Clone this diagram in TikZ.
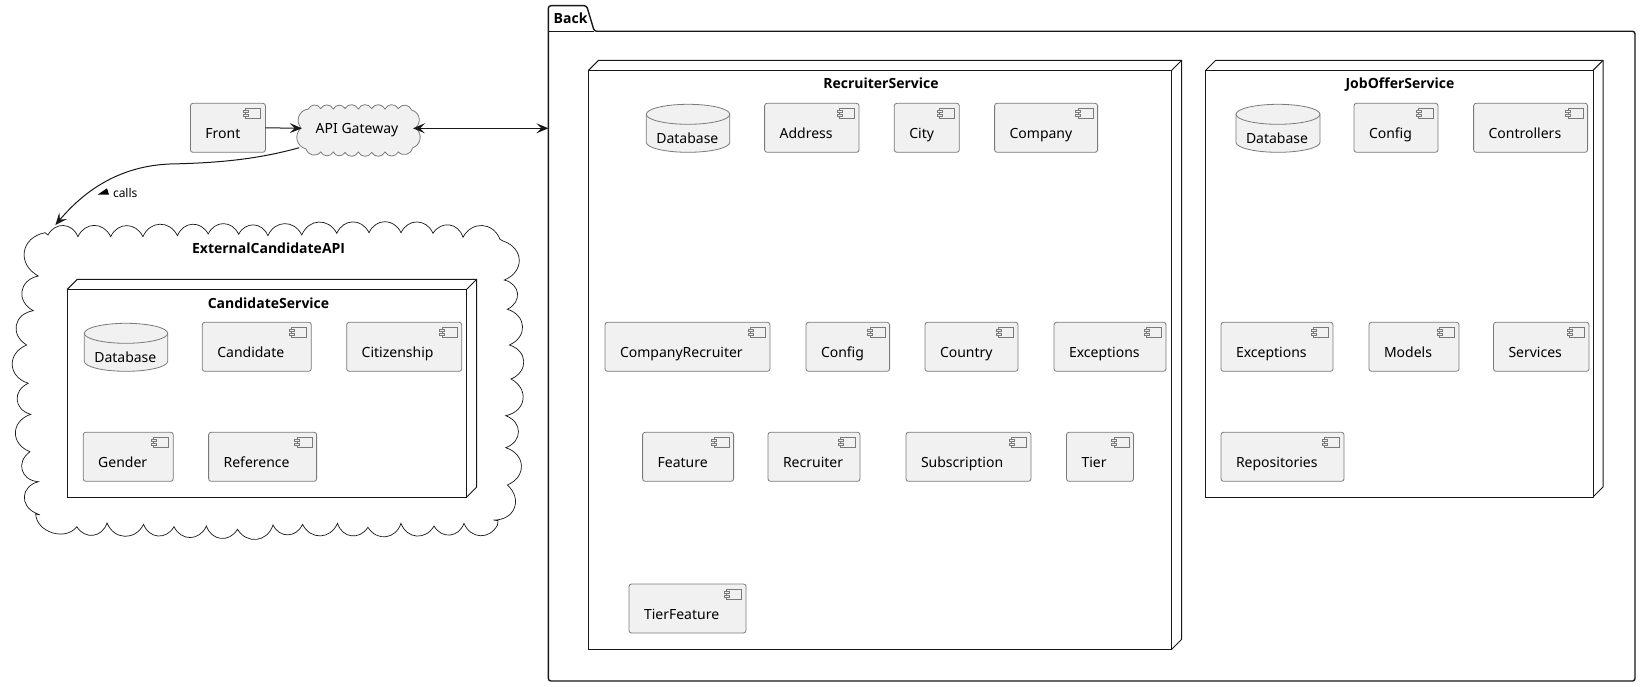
\documentclass[tikz,border=0pt]{standalone}
\usepackage{fontspec}
\setmainfont{Noto Sans}
\newfontfamily\ttlf{Open Sans}
\usetikzlibrary{arrows.meta,calc}
\definecolor{umlink}{HTML}{181818}
\definecolor{umlfill}{HTML}{F1F1F1}
\definecolor{umledge}{HTML}{7A7A7A}
\tikzset{
  x=1pt,y=-1pt,
  lbl/.style={inner sep=0pt,outer sep=0pt,text=black,font=\fontsize{14}{16}\selectfont},
  ttl/.style={inner sep=0pt,outer sep=0pt,text=black,font=\ttlf\fontsize{14}{16}\selectfont\bfseries},
  compshape/.style={draw=umledge,fill=umlfill,line width=0.8pt,rounded corners=2.5pt,inner sep=0pt,outer sep=0pt,minimum height=49pt},
  iconline/.style={draw=umledge,fill=umlfill,line width=0.7pt},
  dbline/.style={draw=umledge,fill=umlfill,line width=0.8pt},
  svcshape/.style={draw=umlink,fill=white,line width=1pt,inner sep=0pt,outer sep=0pt},
  svcline/.style={draw=umlink,fill=white,line width=1pt,line join=round},
  pkgline/.style={draw=umlink,fill=white,line width=1.4pt,line join=round},
  wavy/.style={bend left=70,looseness=1.45},
  wavyh/.style={bend left=65,looseness=1.3},
  wavyg/.style={bend left=60,looseness=1.2},
  cloudline/.style={draw=umlink,fill=white,line width=0.7pt,line join=miter},
  gwline/.style={draw=umledge,fill=umlfill,line width=0.8pt,line join=miter},
  link/.style={draw=umlink,line width=1pt},
  tip/.tip={Stealth[length=12pt,width=10pt,inset=5pt]},
}
% id, x, y, width, text
\newcommand{\compbox}[5]{%
  \node[compshape,minimum width=#4pt,anchor=north west] (#1) at (#2,#3) {};
  \node[lbl,anchor=base west] (#1t) at ([shift={(15,35.6)}]#1.north west) {#5};
  \draw[iconline] ([shift={(-19.6,5)}]#1.north east) rectangle ([shift={(-4.6,15.4)}]#1.north east);
  \draw[iconline] ([shift={(-22,7)}]#1.north east) rectangle ([shift={(-17,9)}]#1.north east);
  \draw[iconline] ([shift={(-22,11)}]#1.north east) rectangle ([shift={(-17,13)}]#1.north east);
}
% id, x, y, width, text
\newcommand{\dbcyl}[5]{%
  \begin{scope}[shift={(#2,#3)},xscale=#4]
    \draw[dbline] (0,10) .. controls (0,4.5) and (.225,0) .. (.5,0) .. controls (.775,0) and (1,4.5) .. (1,10)
      -- (1,38) .. controls (1,43.5) and (.775,48) .. (.5,48) .. controls (.225,48) and (0,43.5) .. (0,38) -- cycle;
    \draw[dbline,fill=none] (0,10) .. controls (0,15.5) and (.225,20) .. (.5,20) .. controls (.775,20) and (1,15.5) .. (1,10);
  \end{scope}
  \node[lbl,anchor=base west] (#1) at ($(#2,#3)+(10,39)$) {#5};
}
% id, x0, y0, x1, y1, title, title centre x, title baseline y
\newcommand{\svcbox}[8]{%
  \draw[svcline] (#2,#3) -- ($(#2,#3)+(10,-10)$) -- ($(#4,#3)+(10,-10)$) -- ($(#4,#5)+(10,-10)$) -- (#4,#5) -- cycle;
  \draw[svcline] (#4,#3) -- ($(#4,#3)+(10,-10)$);
  \path let \p1=(#2,#3), \p2=(#4,#5) in
    node[svcshape,anchor=north west,minimum width=\x2-\x1,minimum height=\y1-\y2] (#1) at (#2,#3) {};
  \node[ttl,anchor=base] (#1t) at (#7,#8) {#6};
}
\begin{document}
\begin{tikzpicture}
\useasboundingbox (0,0) rectangle (1641,687);
\fill[white] (0,0) rectangle (1641,687);

% Back package
\draw[pkgline,rounded corners=2.5pt] (548.4,31.3) -- (548.4,5.7) -- (586.6,5.7) -- (594.3,31.3) -- (1635,31.3) -- (1635,681) -- (548.4,681) -- cycle;
\draw[pkgline,fill=none] (548.4,31.3) -- (594.3,31.3);
\node[ttl,anchor=base west] (backt) at (553.7,23.3) {Back};
\coordinate (backport) at (548.4,128.3);

\svcbox{rec}{588.6}{70.3}{1171.7}{649.3}{RecruiterService}{881}{89}
\svcbox{job}{1205.7}{70.3}{1593}{497}{JobOfferService}{1400}{89}

\dbcyl{recdb}{646.3}{104.3}{83.5}{Database}
\compbox{recaddress}{764.6}{103.3}{94.4}{Address}
\compbox{reccity}{894.3}{103.3}{65}{City}
\compbox{reccompany}{994.6}{103.3}{103}{Company}
\compbox{reccr}{605}{322.3}{165}{CompanyRecruiter}
\compbox{recconfig}{806}{322.3}{83.6}{Config}
\compbox{reccountry}{925}{322.3}{93}{Country}
\compbox{recexc}{1054}{322.3}{112}{Exceptions}
\compbox{recfeature}{642.6}{432.3}{91}{Feature}
\compbox{recrecruiter}{768}{432.3}{92}{Recruiter}
\compbox{recsub}{906}{432.3}{125}{Subscription}
\compbox{rectier}{1066.5}{432.3}{67}{Tier}
\compbox{rectf}{629}{584}{117}{TierFeature}

\dbcyl{jobdb}{1236}{104.3}{84}{Database}
\compbox{jobconfig}{1354}{103.3}{84}{Config}
\compbox{jobctrl}{1473.6}{103.3}{114}{Controllers}
\compbox{jobexc}{1221}{322.3}{112}{Exceptions}
\compbox{jobmodels}{1369}{322.3}{90}{Models}
\compbox{jobsvc}{1493.5}{322.3}{95.5}{Services}
\compbox{jobrepo}{1221}{432.3}{123}{Repositories}

% External cloud
\draw[cloudline]
  (45,232.7) -- (48,235)
  to[wavyh] (77.9,236.7) to[wavyh] (110.7,236.7) to[wavyh] (142.9,236.7) to[wavyh] (177.5,235.7)
  to[wavyh] (208.2,234) to[wavyh] (238.6,234.3) to[wavyh] (267.9,235.7) to[wavyh] (301.8,235)
  to[wavyh] (336.8,233.3) to[wavyh] (369,232.7) to[wavyh] (401,232.7) to[wavyh] (433,233.3)
  to[wavyh] (463,237.3) to[wavyh] (500,239.3) -- (503,241)
  to[wavy] (504.3,280) to[wavy] (507.3,309.3) to[wavy] (509.3,345) to[wavy] (511,379)
  to[wavy] (505.7,415.7) to[wavy] (505.7,447.7) to[wavy] (507.3,485) to[wavy] (493.3,520)
  -- (498,520.7) -- (497.5,525)
  to[wavyh] (464,523.3) to[wavyh] (434,526) to[wavyh] (401,523.3) to[wavyh] (367.9,527.3)
  to[wavyh] (337.5,523.3) to[wavyh] (302.5,524.3) to[wavyh] (273,525) to[wavyh] (237.5,529.3)
  to[wavyh] (206.4,526) to[wavyh] (174,526.7) to[wavyh] (143.6,524.3) to[wavyh] (107,523)
  to[wavyh] (76.8,526.7) to[bend left=70,looseness=1.1] (35.7,514) -- (40,515) -- (35.5,513)
  to[wavy] (38.3,481.7) to[wavy] (30,451.7) to[wavy] (30.7,414.3) to[wavy] (28.3,383.3)
  to[wavy] (26.7,345) to[wavy] (33.3,310.7) to[wavy] (38.3,276) to[wavy] (45,232.7) -- cycle;
\node[ttl,anchor=base] (ext) at (268.6,253.3) {ExternalCandidateAPI};
\coordinate (exttip) at (55.4,225);

\svcbox{cand}{67.3}{289.3}{466.7}{497}{CandidateService}{268.5}{308}
\dbcyl{canddb}{84.3}{323.3}{83.4}{Database}
\compbox{candcand}{202.3}{322.3}{109}{Candidate}
\compbox{candcit}{346.7}{322.3}{115}{Citizenship}
\compbox{candgen}{83.2}{432.3}{90}{Gender}
\compbox{candref}{208.6}{432.3}{108}{Reference}

% Front and gateway
\compbox{front}{190.4}{103.3}{75}{Front}
\draw[gwline]
  (308.3,109) to[wavyg] (320.7,108.5) to[wavyg] (333.3,109) to[wavyg] (345,108.5) to[wavyg] (358.3,109)
  to[wavyg] (371.7,108.5) to[wavyg] (385,109) to[wavyg] (398.3,108.5) to[wavyg] (411.7,110)
  to[wavyg] (415.5,128) to[wavyg] (412.5,148)
  to[wavyg] (398.3,152) to[wavyg] (385,152) to[wavyg] (371.7,152.5) to[wavyg] (358.3,152)
  to[wavyg] (345,152.5) to[wavyg] (333.3,152) to[wavyg] (320.7,152) to[wavyg] (306,149)
  to[wavyg] (301,128) to[wavyg] (308.3,109) -- cycle;
\node[lbl,anchor=base] (gw) at (357,133.8) {API Gateway};
\coordinate (gwwest) at (301.8,128.3);
\coordinate (gweast) at (413,128.3);
\coordinate (gwsouth) at (299.3,147.7);
\coordinate (frontport) at (front.east);

% Connectors
\draw[link,-{tip}] (frontport) -- (gwwest);
\draw[link,{tip}-{tip}] (gweast) -- (backport);
\draw[link,-{tip}] (gwsouth) .. controls (255,160) and (215,163) .. (170,164) .. controls (120,166) and (85,190) .. (exttip);
\fill[black] (97.5,194.7) -- (109,194.7) -- (107,188.3) -- cycle;
\node[lbl,font=\fontsize{12}{14}\selectfont,anchor=base west] (calls) at (113,197.7) {calls};
\end{tikzpicture}
\end{document}
